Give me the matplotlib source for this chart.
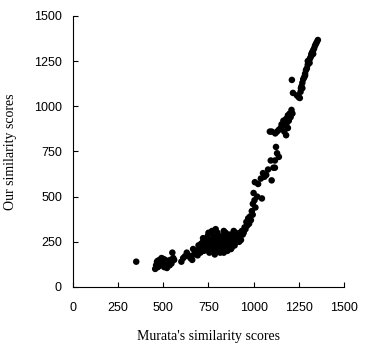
import matplotlib
matplotlib.use("Agg")
import matplotlib.pyplot as plt

# Murata's similarity score vs our similarity score
low_x = [350, 455, 460, 465, 470, 475, 480, 485, 490, 495, 500, 505, 510, 515, 520,
         525, 530, 540, 545, 550, 555, 560, 470, 500, 535]
low_y = [140, 100, 120, 140, 110, 130, 150, 120, 160, 140, 130, 110, 150, 125, 105,
         135, 145, 150, 130, 190, 160, 150, 145, 155, 120]

mid_x = [600, 610, 630, 640, 650, 660, 670, 680, 690, 695, 700, 705, 620, 665]
mid_y = [140, 160, 190, 175, 160, 150, 180, 200, 175, 230, 210, 190, 170, 210]

dense_x = [710, 715, 720, 725, 730, 735, 740, 745, 750, 750, 755, 760, 765, 770, 770,
           775, 780, 780, 785, 790, 790, 795, 800, 800, 805, 810, 815, 820, 825, 825,
           830, 835, 835, 840, 845, 850, 855, 860, 865, 870, 875, 880, 885, 890, 895,
           900, 905, 910, 915, 920, 925, 930, 935, 940, 945, 950, 955, 960, 965, 970,
           975, 980, 985, 990, 995, 760, 790, 810, 770, 800, 820, 850, 860, 880, 740,
           730, 720, 700, 845, 855, 900, 920, 890]
dense_y = [240, 220, 250, 200, 260, 230, 210, 280, 300, 240, 190, 260, 220, 310, 200,
           250, 230, 280, 180, 260, 210, 240, 300, 200, 270, 230, 190, 250, 280, 210,
           240, 310, 190, 260, 220, 250, 200, 270, 230, 290, 210, 250, 240, 270, 230,
           260, 290, 250, 280, 270, 300, 260, 310, 290, 300, 330, 320, 360, 340, 380,
           350, 390, 370, 420, 400, 300, 320, 280, 240, 250, 220, 270, 240, 220, 250,
           220, 270, 230, 300, 290, 300, 250, 310]

rise_x = [996, 1000, 1005, 1007, 1010, 1020, 1025, 1040, 1046, 1052, 1060, 1070, 1080,
          1095, 1100, 1110, 1118, 1124, 1130, 1140, 1118]
rise_y = [460, 520, 480, 580, 440, 500, 570, 600, 490, 630, 610, 620, 650,
          700, 590, 660, 700, 775, 740, 720, 660]

upper_x = [1090, 1100, 1120, 1130, 1140, 1150, 1155, 1160, 1165, 1170, 1180, 1180, 1185,
           1190, 1195, 1200, 1205, 1210, 1215, 1190, 1170]
upper_y = [860, 860, 850, 860, 870, 880, 900, 890, 920, 900, 840, 930, 910,
           950, 920, 960, 940, 980, 960, 880, 860]

top_x = [1212, 1218, 1256, 1250, 1260, 1262, 1265, 1270, 1275, 1280, 1285, 1290, 1295,
         1300, 1305, 1310, 1315, 1320, 1325, 1330, 1335, 1340, 1345, 1350, 1356, 1300,
         1310, 1320, 1330, 1285, 1270, 1240]
top_y = [1146, 1074, 1046, 1050, 1080, 1100, 1110, 1130, 1150, 1160, 1180, 1200, 1210,
         1230, 1240, 1260, 1270, 1290, 1300, 1310, 1320, 1335, 1345, 1355, 1367, 1250,
         1240, 1280, 1290, 1170, 1100, 1060]

x = low_x + mid_x + dense_x + rise_x + upper_x + top_x
y = low_y + mid_y + dense_y + rise_y + upper_y + top_y

ticks = [0, 250, 500, 750, 1000, 1250, 1500]

fig = plt.figure(figsize=(3.67, 3.47), dpi=100)
ax = fig.add_axes([0.199, 0.173, 0.738, 0.781])
ax.scatter(x, y, s=22, c="black", edgecolors="none", clip_on=False)

ax.set_xlim(0, 1500)
ax.set_ylim(0, 1500)
ax.set_xticks(ticks)
ax.set_yticks(ticks)
for s in ["top", "right"]:
    ax.spines[s].set_visible(False)
for s in ["left", "bottom"]:
    ax.spines[s].set_linewidth(0.8)

ax.tick_params(direction="in", length=3.5, width=0.8, labelsize=9)
ax.tick_params(axis="y", pad=8)
ax.tick_params(axis="x", pad=11)
for lab in ax.get_xticklabels() + ax.get_yticklabels():
    lab.set_family("Liberation Sans")

ax.set_xlabel("Murata's similarity scores", family="Liberation Serif", fontsize=10, labelpad=11)
ax.set_ylabel("Our similarity scores", family="Liberation Serif", fontsize=10, labelpad=12)

fig.savefig("out.png", dpi=100)
